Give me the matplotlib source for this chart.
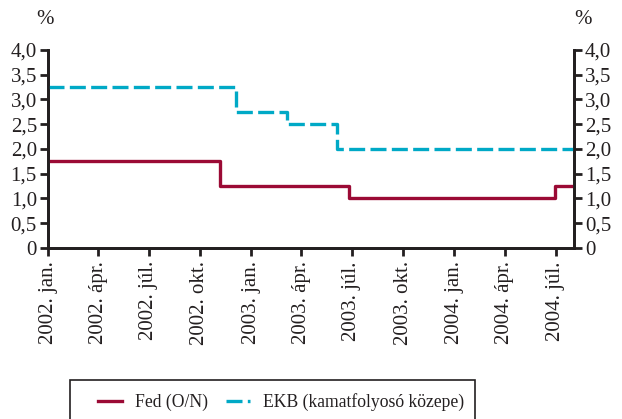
import pandas as pd
import matplotlib
matplotlib.use('Agg')
import matplotlib.pyplot as plt
from matplotlib.patches import Rectangle

# step data (rate changes)
fed_dates = ['2002-01-01', '2002-11-06', '2003-06-25', '2004-06-30', '2004-08-03']
fed_values = [1.75, 1.25, 1.00, 1.25, 1.25]
ekb_dates = ['2002-01-01', '2002-12-05', '2003-03-06', '2003-06-05', '2004-08-03']
ekb_values = [3.25, 2.75, 2.50, 2.00, 2.00]

tick_dates = ['2002-01-01', '2002-04-01', '2002-07-01', '2002-10-01',
              '2003-01-01', '2003-04-01', '2003-07-01', '2003-10-01',
              '2004-01-01', '2004-04-01', '2004-07-01']
tick_labels = ['2002. jan.', '2002. ápr.', '2002. júl.', '2002. okt.',
               '2003. jan.', '2003. ápr.', '2003. júl.', '2003. okt.',
               '2004. jan.', '2004. ápr.', '2004. júl.']
y_ticks = [0, 0.5, 1.0, 1.5, 2.0, 2.5, 3.0, 3.5, 4.0]

plt.rcParams['font.family'] = ['Liberation Serif', 'DejaVu Serif']
plt.rcParams['font.size'] = 15
text_color = '#231f20'
fed_color = '#9b0a35'
ekb_color = '#00a9c6'

fig = plt.figure(figsize=(6.22, 4.19), dpi=100)
ax = fig.add_axes([48/622, 1 - 248/419, (574 - 48)/622, (248 - 50)/419])
ax2 = ax.twinx()

ax.step(pd.to_datetime(fed_dates), fed_values, where='post',
        color=fed_color, lw=2.4, label='Fed (O/N)', zorder=3)
ax.step(pd.to_datetime(ekb_dates), ekb_values, where='post',
        color=ekb_color, lw=2.4, dashes=(4.8, 1.6), label='EKB (kamatfolyosó közepe)', zorder=3)

ax.set_xlim(pd.Timestamp('2002-01-01'), pd.Timestamp('2004-08-03'))
ax.set_xticks(pd.to_datetime(tick_dates))
ax.set_xticklabels(tick_labels, rotation=90, color=text_color)

def fmt(v):
    return '0' if v == 0 else f'{v:.1f}'.replace('.', ',')

for a in (ax, ax2):
    a.set_ylim(0, 4.0)
    a.set_yticks(y_ticks)
    a.set_yticklabels([fmt(v) for v in y_ticks], color=text_color)
    a.spines['top'].set_visible(False)
    for s in ('left', 'right', 'bottom'):
        a.spines[s].set_linewidth(2)
        a.spines[s].set_color(text_color)
    a.tick_params(width=2, length=6, color=text_color, direction='out')

ax.tick_params(axis='y', pad=2)
ax2.tick_params(axis='y', pad=2)

fig.text(45/622, 1 - 20/419, '%', ha='center', va='center', color=text_color)
fig.text(583/622, 1 - 20/419, '%', ha='center', va='center', color=text_color)

# legend box frame
fig.patches.append(Rectangle((70/622, -0.05), (475 - 70)/622, 0.05 + 1 - 380/419,
                             transform=fig.transFigure, fill=False,
                             edgecolor=text_color, linewidth=1.2))

h1, l1 = ax.get_legend_handles_labels()
leg = fig.legend(h1, l1, loc='center left', bbox_to_anchor=(98/622, 1 - 402/419),
                 ncol=2, frameon=False, fontsize=12.7,
                 handlelength=1.36, handletextpad=0.74, columnspacing=1.0,
                 borderpad=0, borderaxespad=0)
for t in leg.get_texts():
    t.set_color(text_color)

fig.savefig('out.png', dpi=100)
